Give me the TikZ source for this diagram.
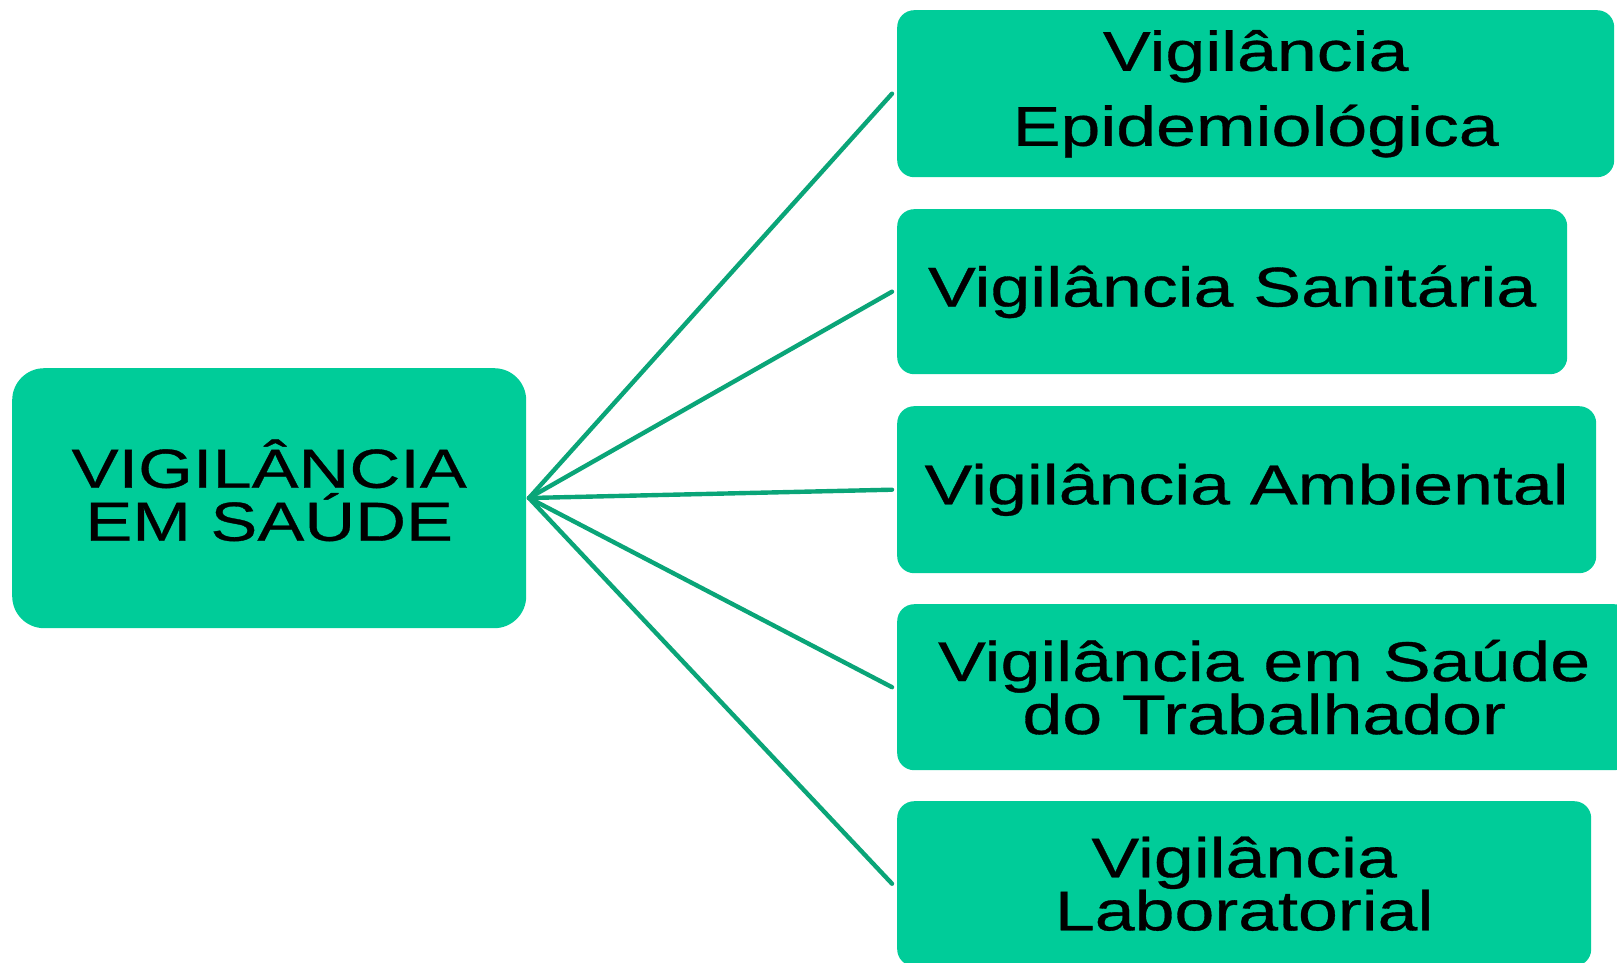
\documentclass[tikz,border=0pt]{standalone}
\usepackage{fontspec}
\newfontfamily\boxfont[FakeStretch=1.28,FakeBold=0.6]{Liberation Sans}
\definecolor{boxgreen}{RGB}{0,204,153}
\definecolor{linegreen}{RGB}{10,165,120}
\begin{document}
\begin{tikzpicture}[x=1pt,y=-1pt,
  leaf/.style={draw=none,fill=boxgreen,rounded corners=17pt,anchor=north west,
    inner sep=0pt,align=center,text=black,
    font=\boxfont\fontsize{56}{53}\selectfont},
  rootbox/.style={leaf,rounded corners=32pt,font=\boxfont\fontsize{55}{53}\selectfont},
  link/.style={draw=linegreen,line width=4.4pt,line cap=round}]
\useasboundingbox (0,0) rectangle (1617,963);
\node[rootbox,minimum width=514pt,minimum height=260pt,text depth=16pt] (root) at (12,368) {VIGIL\^ANCIA\\EM SA\'UDE};
\node[leaf,minimum width=717pt,minimum height=167pt,font=\boxfont\fontsize{56}{75}\selectfont] (b1) at (897,10) {Vigil\^ancia\\Epidemiol\'ogica};
\node[leaf,minimum width=670pt,minimum height=165pt] (b2) at (897,209) {Vigil\^ancia Sanit\'aria};
\node[leaf,minimum width=699pt,minimum height=167pt] (b3) at (897,406) {Vigil\^ancia Ambiental};
\node[leaf,minimum width=734pt,minimum height=166pt] (b4) at (897,604) {Vigil\^ancia em Sa\'ude\\do Trabalhador};
\node[leaf,minimum width=694pt,minimum height=165pt] (b5) at (897,801) {Vigil\^ancia\\Laboratorial};
\coordinate (hub) at (529,498);
\foreach \b in {b1,b2,b3,b4,b5}
  \draw[link] (hub) -- ([xshift=-5pt]\b.west);
\end{tikzpicture}
\end{document}
